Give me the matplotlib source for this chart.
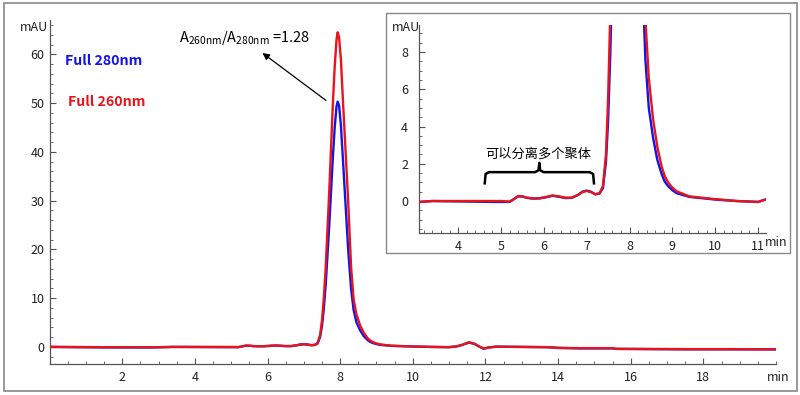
import numpy as np
import matplotlib.pyplot as plt
from matplotlib.patches import Rectangle
from matplotlib.ticker import MultipleLocator

plt.rcParams['font.family'] = ['Noto Sans CJK SC', 'DejaVu Sans']

# retention time (min) and absorbance (mAU)
time_min = [0.0, 1.5, 2.8, 3.4, 4.8, 5.0, 5.2, 5.3, 5.4, 5.5, 5.6, 5.75, 5.9,
            6.05, 6.2, 6.35, 6.5, 6.65, 6.8, 6.9, 7.0, 7.1, 7.2, 7.3, 7.38,
            7.45, 7.50, 7.55, 7.60, 7.65, 7.70, 7.75, 7.80, 7.85, 7.90, 7.93,
            7.97, 8.02, 8.08, 8.15, 8.22, 8.30, 8.37, 8.45, 8.55, 8.65, 8.75,
            8.82, 8.90, 9.0, 9.10, 9.40, 10.0, 10.5, 11.0, 11.2, 11.35, 11.55,
            11.7, 11.85, 11.95, 12.1, 12.3, 13.7, 14.0, 14.6, 15.5, 15.6, 17.6,
            18.8, 20.0]
abs_280 = [0.0, -0.1, -0.1, 0.0, -0.05, -0.05, -0.05, 0.1, 0.25, 0.24, 0.17,
           0.13, 0.14, 0.2, 0.28, 0.23, 0.16, 0.17, 0.33, 0.5, 0.56, 0.5,
           0.36, 0.4, 0.7, 2.1, 4.3, 7.8, 12.5, 18.7, 25, 32, 39, 45, 49.3,
           50.3, 49.5, 45.5, 38, 29, 20, 12, 7.6, 5.0, 3.4, 2.2, 1.45,
           1.05, 0.8, 0.58, 0.42, 0.22, 0.08, 0.0, -0.05, 0.1, 0.4, 0.9,
           0.6, 0.0, -0.35, -0.1, 0.05, -0.05, -0.2, -0.3, -0.3, -0.4, -0.5,
           -0.5, -0.5]
abs_260 = [0.0, -0.05, -0.1, 0.0, 0.0, 0.0, -0.03, 0.1, 0.27, 0.25, 0.18,
           0.14, 0.15, 0.22, 0.3, 0.25, 0.18, 0.18, 0.33, 0.48, 0.54, 0.48,
           0.36, 0.42, 0.8, 2.5, 5.5, 10, 16, 24, 32, 41, 50, 57.5, 63,
           64.5, 63.5, 59, 50, 40, 30, 16.5, 9.8, 6.6, 4.4, 2.9, 1.85,
           1.35, 1.0, 0.72, 0.52, 0.25, 0.1, 0.0, -0.05, 0.1, 0.4, 0.95,
           0.65, 0.0, -0.35, -0.1, 0.05, -0.05, -0.2, -0.25, -0.25, -0.4, -0.45,
           -0.45, -0.5]

ratio_text = r'$\mathregular{A_{260nm}/A_{280nm}}$ =1.28'
bracket_text = '可以分离多个聚体'
bracket_from, bracket_to, bracket_y = 4.62, 7.17, 1.55

blue = '#1414e6'
red = '#e8141c'
axis_grey = '#555555'

fig = plt.figure(figsize=(8, 3.95), dpi=100)

# grey frame around the whole figure
fig.patches.append(Rectangle((0.005, 0.01), 0.991, 0.982, transform=fig.transFigure,
                             fill=False, ec='#888888', lw=1.2, zorder=0))


def style_axes(ax):
    for s in ['top', 'right']:
        ax.spines[s].set_visible(False)
    for s in ['left', 'bottom']:
        ax.spines[s].set_color(axis_grey)
        ax.spines[s].set_linewidth(0.9)
    ax.tick_params(which='both', direction='in', color=axis_grey,
                   labelsize=9, labelcolor='#222222')
    ax.tick_params(which='major', length=4)
    ax.tick_params(which='minor', length=2.5)
    ax.tick_params(axis='x', pad=5)


ax = fig.add_axes([0.062, 0.0785, 0.908, 0.8705])
ax.plot(time_min, abs_280, color=blue, lw=1.7, zorder=3)
ax.plot(time_min, abs_260, color=red, lw=1.7, zorder=4)
ax.set_xlim(0, 20)
ax.set_ylim(-3.5, 67)
ax.set_xticks(np.arange(2, 19, 2))
ax.set_yticks(np.arange(0, 61, 10))
ax.xaxis.set_minor_locator(MultipleLocator(0.5))
ax.yaxis.set_minor_locator(MultipleLocator(2))
style_axes(ax)
ax.text(-0.05, 65.4, 'mAU', ha='right', va='center', fontsize=9, color='#222222')
ax.text(20.05, -6.2, 'min', ha='center', va='center', fontsize=9, color='#222222')

ax.text(0.43, 58.6, 'Full 280nm', color=blue, fontsize=10.2, fontweight='bold',
        va='center')
ax.text(0.51, 50.2, 'Full 260nm', color=red, fontsize=10.2, fontweight='bold',
        va='center')
ax.annotate('', xy=(5.8, 60.6), xytext=(7.67, 50.2),
            arrowprops=dict(arrowstyle='-|>', color='black', lw=0.9,
                            mutation_scale=10))
ax.text(5.36, 63.3, ratio_text, ha='center', va='center', fontsize=10.5)

# inset frame
fig.patches.append(Rectangle((0.4825, 0.3595), 0.505, 0.6076, transform=fig.transFigure,
                             fc='white', ec='#888888', lw=1.0, zorder=1))

ins = fig.add_axes([0.524, 0.41, 0.4337, 0.5266])
ins.set_zorder(2)
ins.plot(time_min, abs_280, color=blue, lw=1.7, zorder=3)
ins.plot(time_min, abs_260, color=red, lw=1.7, zorder=4)
ins.set_xlim(3.09, 11.19)
ins.set_ylim(-1.72, 9.45)
ins.set_xticks(np.arange(4, 12, 1))
ins.set_yticks(np.arange(0, 9, 2))
ins.xaxis.set_minor_locator(MultipleLocator(0.2))
ins.yaxis.set_minor_locator(MultipleLocator(0.5))
style_axes(ins)
ins.tick_params(axis='y', pad=8)
ins.text(3.12, 9.3, 'mAU', ha='right', va='center', fontsize=9, color='#222222')
ins.text(11.42, -2.25, 'min', ha='center', va='center', fontsize=9, color='#222222')

# curly bracket over the aggregate peaks
mid = (bracket_from + bracket_to) / 2
bx = [bracket_from, bracket_from + 0.02, bracket_from + 0.1, mid - 0.1, mid - 0.02, mid,
      mid + 0.02, mid + 0.1, bracket_to - 0.1, bracket_to - 0.02, bracket_to]
by = [bracket_y - 0.6, bracket_y - 0.1, bracket_y, bracket_y, bracket_y + 0.1, bracket_y + 0.5,
      bracket_y + 0.1, bracket_y, bracket_y, bracket_y - 0.1, bracket_y - 0.6]
ins.plot(bx, by, color='black', lw=1.8, solid_joinstyle='round', zorder=5)
ins.text(mid - 0.03, bracket_y + 0.95, bracket_text, ha='center', va='center', fontsize=9.5)

fig.savefig('out.png', dpi=100)
